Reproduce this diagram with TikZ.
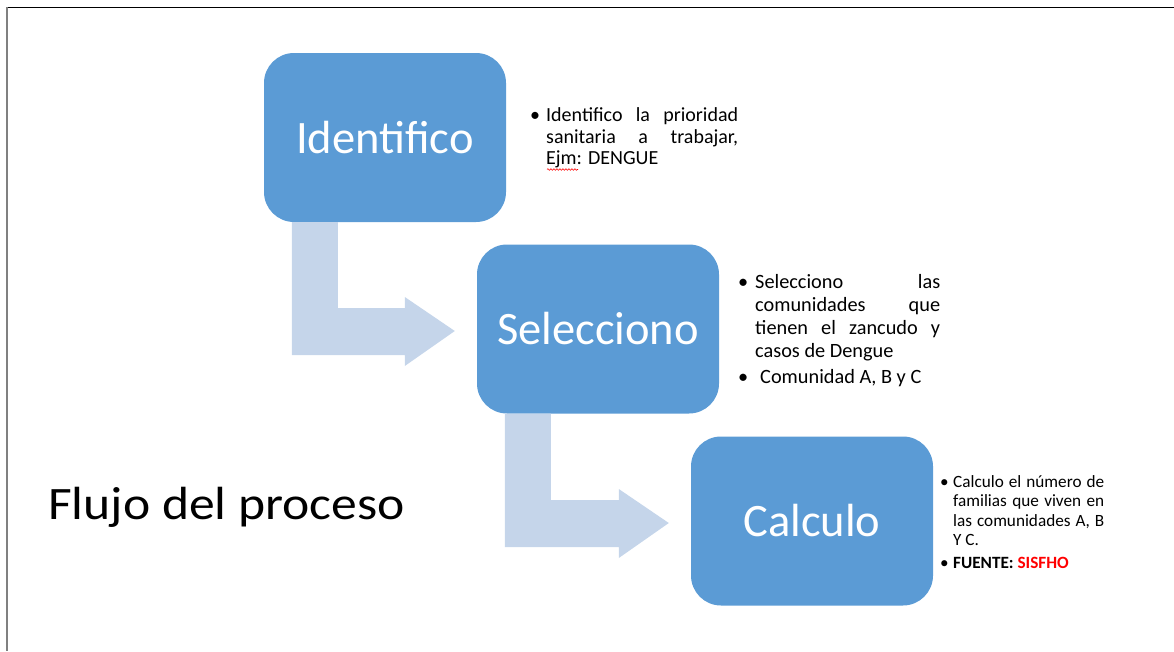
\documentclass[tikz,border=0pt]{standalone}
\usepackage{fontspec}
\usepackage{graphicx}
\setmainfont{Carlito}
\usetikzlibrary{calc,decorations.pathmorphing}

\definecolor{stepblue}{HTML}{5B9BD5}
\definecolor{flowblue}{HTML}{C5D5EA}
\definecolor{fuentered}{HTML}{FF0000}

\newcommand{\notefont}[2]{\fontsize{#1}{#2}\selectfont\spaceskip=0.226em plus 2em\relax
	\hyphenpenalty=10000\relax\adjdemerits=0\relax\parindent=0pt\relax}
\newcommand{\bul}[2]{\hangindent=#1\hangafter=1\noindent\makebox[#1][l]{\textbullet}#2\par}

\newcommand{\bentarrow}[2]{%
	\path ($(#1.south west)+(28,0)$) coordinate (#1-a) ($(#2.west)+(-22,2)$) coordinate (#1-t);
	\fill[flow] (#1-a) -- ++(46,0) |- ($(#1-t)+(-50,-23)$) -- ++(0,-11) -- (#1-t)
		-- ($(#1-t)+(-50,35)$) -- ++(0,-11) -| (#1-a) -- cycle;
}

\begin{document}
\begin{tikzpicture}[x=1pt,y=-1pt,
	stepbox/.style={fill=stepblue,rounded corners=30pt,minimum width=242pt,minimum height=169pt,
		text=white,font=\fontsize{46.5}{54}\selectfont,inner sep=0pt},
	flow/.style={fill=flowblue},
	note/.style={anchor=base west,inner sep=0pt,align=justify}]
	\useasboundingbox (0,0) rectangle (1174,651);
	\draw[black,line width=1pt] (7,7) -- (1174,7);
	\draw[gray,line width=2pt] (7,7) -- (7,651);
	\node [stepbox] (idf) at (385,137.5) {Identifico};
	\node [stepbox] (sel) at (598,329) {Selecciono};
	\node [stepbox] (cal) at (812,521) {Calculo};
	\bentarrow{idf}{sel}
	\bentarrow{sel}{cal}
	\node [note,text width=208pt,font=\notefont{20}{21.7}] (idfnote) at (530,121.5)
		{\bul{16pt}{Identifico la prioridad sanitaria a trabajar, Ejm: DENGUE}};
	\draw[red,line width=0.6pt,decorate,decoration={snake,amplitude=0.8pt,segment length=3pt}]
		($(idfnote.base west)+(17,48)$) -- ++(31,0);
	\node [note,text width=202pt,font=\notefont{20.3}{23}] (selnote) at (738,288)
		{\bul{17pt}{Selecciono las comunidades que tienen el zancudo y casos de Dengue}\vspace{3.6pt}
		\bul{17pt}{\hskip 5pt Comunidad A, B y C}};
	\node [note,text width=164pt,font=\notefont{17.2}{19.5}] (calnote) at (940,487)
		{\bul{13pt}{Calculo el número de familias que viven en las comunidades A, B Y C.}\vspace{3.5pt}
		\bul{13pt}{\textbf{FUENTE: \textcolor{fuentered}{SISFHO}}}};
	\node [anchor=base west,inner sep=0pt,font=\fontsize{46.5}{54}\selectfont] (flujo) at (48,519)
		{\scalebox{1.11}[1]{Flujo del proceso}};
\end{tikzpicture}
\end{document}
